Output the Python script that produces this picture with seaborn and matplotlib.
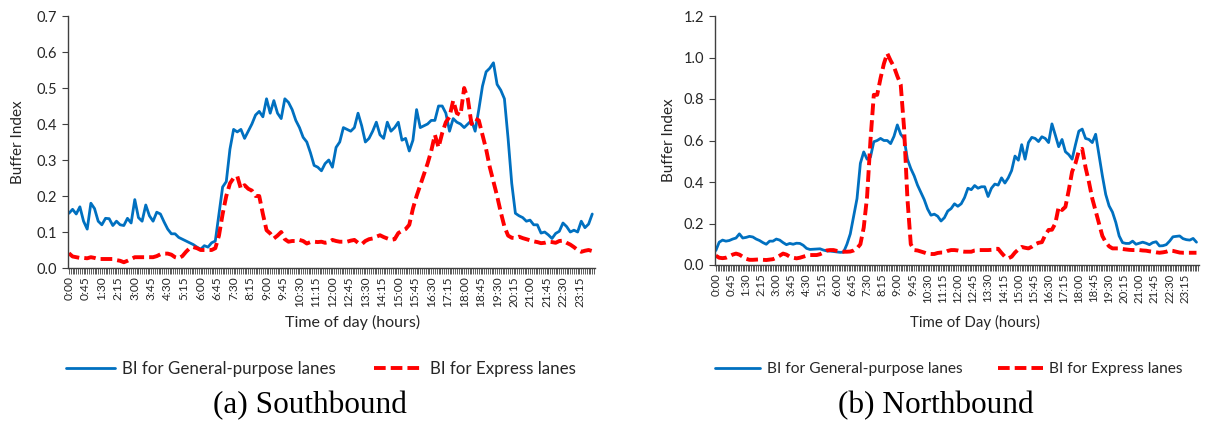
import numpy as np
import pandas as pd
import matplotlib
matplotlib.use("Agg")
import matplotlib.pyplot as plt
import matplotlib.patheffects as pe
import seaborn as sns

# ---------------- data (10-minute intervals, 0:00 .. 23:50) ----------------
STEP_MIN = 10

SB_GP = [
    0.152, 0.163, 0.150, 0.170, 0.130, 0.108, 0.180, 0.165, 0.130, 0.120,
    0.138, 0.137, 0.118, 0.130, 0.120, 0.118, 0.138, 0.125, 0.190, 0.140,
    0.130, 0.175, 0.145, 0.130, 0.155, 0.150, 0.128, 0.108, 0.095, 0.095,
    0.085, 0.080, 0.075, 0.070, 0.065, 0.058, 0.052, 0.062, 0.058, 0.070,
    0.075, 0.150, 0.225, 0.240, 0.330, 0.385, 0.378, 0.385, 0.360, 0.380,
    0.400, 0.425, 0.435, 0.420, 0.470, 0.430, 0.465, 0.430, 0.415, 0.470,
    0.460, 0.440, 0.410, 0.390, 0.363, 0.350, 0.320, 0.285, 0.280, 0.270,
    0.290, 0.300, 0.280, 0.335, 0.350, 0.390, 0.385, 0.380, 0.390, 0.430,
    0.395, 0.350, 0.360, 0.380, 0.405, 0.370, 0.360, 0.405, 0.380, 0.390,
    0.405, 0.355, 0.360, 0.325, 0.355, 0.440, 0.390, 0.395, 0.400, 0.410,
    0.410, 0.450, 0.450, 0.430, 0.380, 0.415, 0.405, 0.400, 0.390, 0.400,
    0.410, 0.380, 0.440, 0.505, 0.545, 0.555, 0.570, 0.510, 0.494, 0.470,
    0.360, 0.235, 0.152, 0.145, 0.140, 0.130, 0.133, 0.120, 0.120, 0.097,
    0.100, 0.092, 0.082, 0.096, 0.102, 0.125, 0.115, 0.100, 0.105, 0.100,
    0.130, 0.112, 0.122, 0.150,
]
SB_EX = [
    0.041, 0.032, 0.030, 0.028, 0.028, 0.027, 0.030, 0.028, 0.025, 0.025,
    0.025, 0.025, 0.025, 0.022, 0.020, 0.016, 0.020, 0.025, 0.030, 0.030,
    0.030, 0.030, 0.030, 0.030, 0.033, 0.038, 0.040, 0.040, 0.037, 0.030,
    0.027, 0.033, 0.045, 0.055, 0.058, 0.055, 0.050, 0.050, 0.050, 0.050,
    0.055, 0.090, 0.150, 0.200, 0.235, 0.250, 0.255, 0.220, 0.230, 0.220,
    0.215, 0.200, 0.200, 0.150, 0.105, 0.096, 0.082, 0.090, 0.100, 0.080,
    0.073, 0.075, 0.075, 0.078, 0.075, 0.068, 0.072, 0.073, 0.072, 0.073,
    0.070, 0.072, 0.078, 0.075, 0.073, 0.073, 0.073, 0.076, 0.078, 0.070,
    0.066, 0.075, 0.080, 0.082, 0.087, 0.091, 0.086, 0.082, 0.078, 0.080,
    0.097, 0.103, 0.108, 0.120, 0.165, 0.200, 0.230, 0.260, 0.290, 0.325,
    0.370, 0.335, 0.375, 0.405, 0.420, 0.465, 0.430, 0.425, 0.500, 0.470,
    0.400, 0.415, 0.410, 0.370, 0.330, 0.280, 0.240, 0.200, 0.155, 0.115,
    0.090, 0.084, 0.083, 0.087, 0.083, 0.080, 0.077, 0.074, 0.072, 0.069,
    0.070, 0.073, 0.072, 0.070, 0.075, 0.076, 0.070, 0.065, 0.058, 0.050,
    0.045, 0.048, 0.050, 0.047,
]
NB_GP = [
    0.070, 0.110, 0.120, 0.115, 0.118, 0.125, 0.130, 0.150, 0.130, 0.133,
    0.138, 0.135, 0.125, 0.118, 0.108, 0.100, 0.115, 0.115, 0.125, 0.120,
    0.108, 0.098, 0.104, 0.100, 0.105, 0.104, 0.095, 0.080, 0.075, 0.076,
    0.077, 0.078, 0.072, 0.068, 0.067, 0.065, 0.063, 0.061, 0.062, 0.100,
    0.150, 0.235, 0.320, 0.490, 0.545, 0.510, 0.520, 0.594, 0.600, 0.610,
    0.600, 0.600, 0.585, 0.620, 0.675, 0.630, 0.610, 0.510, 0.465, 0.430,
    0.385, 0.350, 0.315, 0.270, 0.240, 0.245, 0.235, 0.212, 0.228, 0.260,
    0.272, 0.295, 0.283, 0.295, 0.325, 0.370, 0.363, 0.383, 0.370, 0.377,
    0.377, 0.330, 0.370, 0.390, 0.385, 0.420, 0.395, 0.420, 0.455, 0.525,
    0.505, 0.580, 0.510, 0.590, 0.615, 0.610, 0.595, 0.618, 0.610, 0.590,
    0.680, 0.626, 0.570, 0.605, 0.546, 0.532, 0.510, 0.580, 0.645, 0.655,
    0.610, 0.605, 0.590, 0.630, 0.530, 0.430, 0.340, 0.285, 0.255, 0.205,
    0.140, 0.108, 0.104, 0.104, 0.115, 0.100, 0.105, 0.110, 0.105, 0.098,
    0.108, 0.112, 0.092, 0.093, 0.098, 0.115, 0.136, 0.138, 0.140, 0.127,
    0.122, 0.120, 0.128, 0.110,
]
NB_EX = [
    0.045, 0.035, 0.033, 0.035, 0.042, 0.050, 0.055, 0.050, 0.040, 0.030,
    0.025, 0.025, 0.026, 0.027, 0.025, 0.024, 0.026, 0.028, 0.035, 0.045,
    0.055, 0.050, 0.040, 0.035, 0.032, 0.035, 0.040, 0.045, 0.048, 0.048,
    0.048, 0.052, 0.060, 0.070, 0.072, 0.072, 0.068, 0.065, 0.064, 0.064,
    0.065, 0.070, 0.080, 0.100, 0.180, 0.330, 0.600, 0.820, 0.820, 0.900,
    0.970, 1.020, 0.985, 0.955, 0.910, 0.870, 0.660, 0.320, 0.100, 0.072,
    0.070, 0.065, 0.060, 0.054, 0.053, 0.053, 0.058, 0.060, 0.060, 0.068,
    0.072, 0.072, 0.070, 0.066, 0.064, 0.064, 0.064, 0.070, 0.072, 0.072,
    0.072, 0.072, 0.073, 0.078, 0.078, 0.058, 0.040, 0.032, 0.040, 0.060,
    0.075, 0.087, 0.083, 0.080, 0.088, 0.100, 0.107, 0.110, 0.144, 0.169,
    0.170, 0.200, 0.280, 0.265, 0.280, 0.360, 0.450, 0.490, 0.550, 0.560,
    0.470, 0.400, 0.320, 0.260, 0.200, 0.140, 0.110, 0.090, 0.080, 0.080,
    0.080, 0.077, 0.075, 0.073, 0.072, 0.072, 0.072, 0.070, 0.069, 0.066,
    0.064, 0.061, 0.059, 0.061, 0.064, 0.070, 0.068, 0.064, 0.060, 0.059,
    0.059, 0.059, 0.059, 0.059,
]

TICK_LABELS = [
    "0:00", "0:45", "1:30", "2:15", "3:00", "3:45", "4:30", "5:15",
    "6:00", "6:45", "7:30", "8:15", "9:00", "9:45", "10:30", "11:15",
    "12:00", "12:45", "13:30", "14:15", "15:00", "15:45", "16:30", "17:15",
    "18:00", "18:45", "19:30", "20:15", "21:00", "21:45", "22:30", "23:15",
]
LEGEND_LABELS = ["BI for General-purpose lanes", "BI for Express lanes"]
Y_LABEL = "Buffer Index"
X_LABELS = ["Time of day (hours)", "Time of Day (hours)"]
CAPTIONS = ["(a) Southbound", "(b) Northbound"]
Y_MAX = [0.7, 1.2]
Y_STEP = [0.1, 0.2]

# ---------------- style ----------------
sns.set_style("ticks")
plt.rcParams["font.family"] = ["Lato", "DejaVu Sans"]
TEXT_C = "#262626"
AXIS_C = "#404040"
BLUE = "#0070C0"
RED = "#FF0000"

W, H = 1209, 421
fig = plt.figure(figsize=(W / 100, H / 100), dpi=100)

# axes boxes in pixels: (left, top, right, bottom)
boxes = [(68, 16, 595, 268), (715, 16, 1199, 265)]
ylabel_rx = [25, 676]
xlabel_cx = [353, 975]
xlabel_fs = [11.5, 10.8]
xtick_fs = [8.6, 8.2]
legend_cx = [321, 949]
legend_fs = [12.2, 11.2]
caption_cx = [310, 936]

shadow = [pe.SimpleLineShadow(offset=(1.2, -1.2), shadow_color="#000000", alpha=0.18),
          pe.Normal()]

for k, (gp, ex) in enumerate([(SB_GP, SB_EX), (NB_GP, NB_EX)]):
    l, t, r, b = boxes[k]
    ax = fig.add_axes([l / W, (H - b) / H, (r - l) / W, (b - t) / H])
    df = pd.DataFrame({
        "minute": np.arange(len(gp)) * STEP_MIN,
        "gp": gp,
        "ex": ex,
    })
    sns.lineplot(data=df, x="minute", y="gp", ax=ax, color=BLUE, linewidth=2.0,
                 label=LEGEND_LABELS[0], path_effects=shadow)
    sns.lineplot(data=df, x="minute", y="ex", ax=ax, color=RED, linewidth=2.8,
                 linestyle=(0, (3.0, 1.3)), label=LEGEND_LABELS[1],
                 path_effects=shadow)

    ax.set_xlim(-2.5, 1437.5)
    ax.set_ylim(0, Y_MAX[k])
    yt = np.round(np.arange(0, Y_MAX[k] + 1e-9, Y_STEP[k]), 2)
    ax.set_yticks(yt)
    ax.set_yticklabels([f"{v:.1f}" for v in yt])
    ax.set_xticks(np.arange(len(TICK_LABELS)) * 45)
    ax.set_xticklabels(TICK_LABELS, rotation=90)
    ax.set_xticks(np.arange(0, 1440, 5), minor=True)

    ax.tick_params(axis="y", which="major", length=4, width=0.8, color=AXIS_C,
                   labelsize=10.5, labelcolor=TEXT_C, pad=4)
    ax.tick_params(axis="x", which="both", length=4, width=0.6, color=AXIS_C,
                   labelsize=xtick_fs[k], labelcolor=TEXT_C, pad=2)

    for s in ["top", "right"]:
        ax.spines[s].set_visible(False)
    for s in ["left", "bottom"]:
        ax.spines[s].set_color(AXIS_C)
        ax.spines[s].set_linewidth(1.0)

    ax.set_ylabel(Y_LABEL, fontsize=11, color=TEXT_C)
    ax.yaxis.set_label_coords((ylabel_rx[k] - l) / (r - l), 0.5)
    ax.set_xlabel(X_LABELS[k], fontsize=xlabel_fs[k], color=TEXT_C)
    ax.xaxis.set_label_coords((xlabel_cx[k] - l) / (r - l), (b - 315) / (b - t))

    handles, labels = ax.get_legend_handles_labels()
    for h in handles:
        h.set_path_effects([])
    ax.legend(handles, labels, loc="center",
              bbox_to_anchor=(legend_cx[k] / W, (H - 369) / H),
              bbox_transform=fig.transFigure, ncol=2, frameon=False,
              fontsize=legend_fs[k], handlelength=2.9, handletextpad=0.4,
              columnspacing=2.3, labelcolor=TEXT_C)

    fig.text(caption_cx[k] / W, (H - 406) / H, CAPTIONS[k], ha="center",
             va="center", fontsize=22.5, family=["Liberation Serif", "DejaVu Serif"],
             color="#000000")

fig.savefig("out.png", dpi=100, facecolor="white")
